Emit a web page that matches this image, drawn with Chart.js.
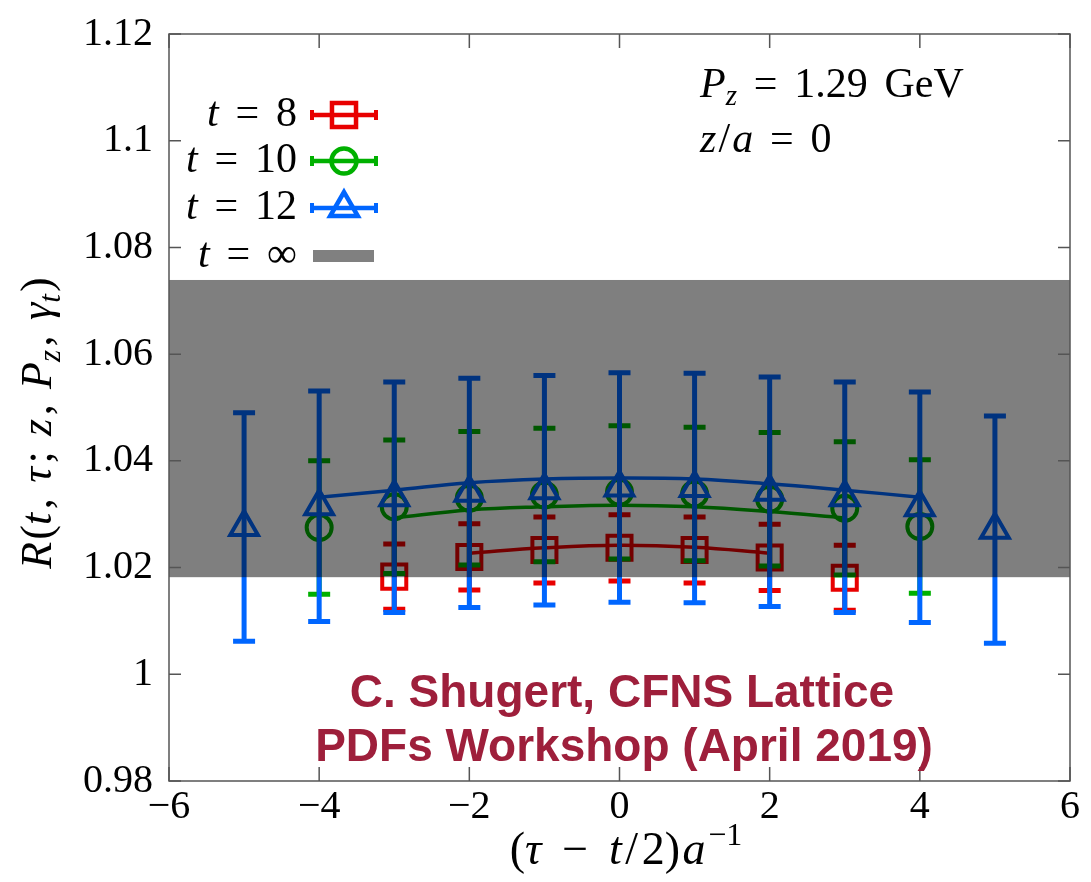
<!DOCTYPE html>
<html lang="en">
<head>
<meta charset="UTF-8">
<title>R(t, tau; z, Pz, gamma_t)</title>
<script src="https://cdn.jsdelivr.net/npm/chart.js"></script>
<style>
  body { margin: 0; background: #fff; }
  #wrap { width: 1091px; height: 882px; }
</style>
</head>
<body>
<div id="wrap"><canvas id="ratioChart" width="1091" height="882"></canvas></div>
<script>
// axis ticks
const xTicks = [-6, -4, -2, 0, 2, 4, 6];
const xTickLabels = ['\u22126', '\u22124', '\u22122', '0', '2', '4', '6'];
const yTicks = [0.98, 1.00, 1.02, 1.04, 1.06, 1.08, 1.10, 1.12];
const yTickLabels = ['0.98', '1', '1.02', '1.04', '1.06', '1.08', '1.1', '1.12'];

// t = 8
const xT8 = [-3, -2, -1, 0, 1, 2, 3];
const yT8 = [1.0183, 1.0220, 1.0233, 1.0237, 1.0233, 1.0219, 1.0181];
const eT8 = [0.0061, 0.0062, 0.0062, 0.0062, 0.0062, 0.0062, 0.0061];
// t = 10
const xT10 = [-4, -3, -2, -1, 0, 1, 2, 3, 4];
const yT10 = [1.0275, 1.0314, 1.0330, 1.0336, 1.0341, 1.0338, 1.0328, 1.0311, 1.0277];
const eT10 = [0.0125, 0.0125, 0.0125, 0.0125, 0.0125, 0.0125, 0.0125, 0.0125, 0.0125];
// t = 12
const xT12 = [-5, -4, -3, -2, -1, 0, 1, 2, 3, 4, 5];
const yT12 = [1.0276, 1.0315, 1.0332, 1.0340, 1.0345, 1.0350, 1.0349, 1.0342, 1.0332, 1.0313, 1.0271];
const eT12 = [0.0214, 0.0216, 0.0216, 0.0215, 0.0215, 0.0215, 0.0215, 0.0215, 0.0216, 0.0216, 0.0213];

// fit curves
const fitX8 = [-2, -1, 0, 1, 2];
const fitY8 = [1.0227, 1.0237, 1.0242, 1.0238, 1.0227];
const fitX10 = [-3, -2, -1, 0, 1, 2, 3];
const fitY10 = [1.0293, 1.0308, 1.0314, 1.0317, 1.0314, 1.0305, 1.0293];
const fitX12 = [-4, -3, -2, -1, 0, 1, 2, 3, 4];
const fitY12 = [1.0332, 1.0345, 1.0359, 1.0366, 1.0368, 1.0366, 1.0357, 1.0345, 1.0332];

// t = infinity band
const bandLow = 1.0182;
const bandHigh = 1.0739;

const legendLabels = ['8', '10', '12', '\u221E'];

const RED = '#e80000', GREEN = '#00b000', BLUE = '#0066ff';
const SERIF = '"Liberation Serif", "DejaVu Serif", serif';

function toPoints(xs, ys) {
    return xs.map((x, i) => ({ x: x, y: ys[i] }));
}

function pointSet(label, xs, ys, errs, color, style, radius, order) {
    return {
        label: label,
        data: toPoints(xs, ys),
        errors: errs,
        borderColor: color,
        backgroundColor: 'rgba(0,0,0,0)',
        pointStyle: style,
        pointRadius: radius,
        pointHoverRadius: radius,
        pointBorderWidth: 4,
        showLine: false,
        order: order
    };
}

function fitSet(xs, ys, color, order) {
    return {
        data: toPoints(xs, ys),
        borderColor: color,
        borderWidth: 3.5,
        pointRadius: 0,
        showLine: true,
        tension: 0.4,
        fill: false,
        order: order
    };
}

// rich text: runs are [text, style] or a number (gap in em)
function drawRich(ctx, runs, x, y, size, align) {
    const items = runs.map(r => {
        if (typeof r === 'number') return { gap: r * size };
        const [t, s] = r;
        let font, dy = 0;
        if (s === 'i') font = 'italic ' + size + 'px ' + SERIF;
        else if (s === 'sub') { font = 'italic ' + Math.round(size * 0.7) + 'px ' + SERIF; dy = size * 0.2; }
        else if (s === 'sup') { font = Math.round(size * 0.7) + 'px ' + SERIF; dy = -size * 0.42; }
        else font = size + 'px ' + SERIF;
        ctx.font = font;
        return { t: t, font: font, dy: dy, w: ctx.measureText(t).width };
    });
    const total = items.reduce((a, it) => a + (it.gap !== undefined ? it.gap : it.w), 0);
    let cx = align === 'center' ? x - total / 2 : align === 'right' ? x - total : x;
    ctx.textAlign = 'left';
    ctx.textBaseline = 'alphabetic';
    items.forEach(it => {
        if (it.gap !== undefined) { cx += it.gap; return; }
        ctx.font = it.font;
        ctx.fillText(it.t, cx, y + it.dy);
        cx += it.w;
    });
}

const errorBars = {
    id: 'errorBars',
    beforeDatasetDraw(chart, args) {
        const ds = chart.data.datasets[args.index];
        if (!ds.errors) return;
        const xs = chart.scales.x, ys = chart.scales.y, ctx = chart.ctx;
        ctx.save();
        ctx.strokeStyle = ds.borderColor;
        ctx.lineWidth = 5;
        ds.data.forEach((p, i) => {
            const px = xs.getPixelForValue(p.x);
            const top = ys.getPixelForValue(p.y + ds.errors[i]);
            const bot = ys.getPixelForValue(p.y - ds.errors[i]);
            ctx.beginPath();
            ctx.moveTo(px, top); ctx.lineTo(px, bot);
            ctx.moveTo(px - 11, top); ctx.lineTo(px + 11, top);
            ctx.moveTo(px - 11, bot); ctx.lineTo(px + 11, bot);
            ctx.stroke();
        });
        ctx.restore();
    }
};

const band = {
    id: 'band',
    afterDatasetsDraw(chart) {
        const ctx = chart.ctx, xs = chart.scales.x, ys = chart.scales.y;
        const x0 = xs.getPixelForValue(-6), x1 = xs.getPixelForValue(6);
        const y0 = ys.getPixelForValue(bandHigh), y1 = ys.getPixelForValue(bandLow);
        ctx.save();
        ctx.fillStyle = 'rgba(0,0,0,0.5)';
        ctx.fillRect(x0, y0, x1 - x0, y1 - y0);
        ctx.restore();
    }
};

const frame = {
    id: 'frame',
    afterDraw(chart) {
        const ctx = chart.ctx, a = chart.chartArea;
        const xs = chart.scales.x, ys = chart.scales.y;
        ctx.save();
        ctx.strokeStyle = '#555';
        ctx.lineWidth = 1.5;
        ctx.strokeRect(a.left, a.top, a.right - a.left, a.bottom - a.top);
        ctx.beginPath();
        yTicks.forEach(v => {
            const py = ys.getPixelForValue(v);
            ctx.moveTo(a.left, py); ctx.lineTo(a.left + 12, py);
            ctx.moveTo(a.right, py); ctx.lineTo(a.right - 12, py);
        });
        xTicks.forEach(v => {
            const px = xs.getPixelForValue(v);
            ctx.moveTo(px, a.bottom); ctx.lineTo(px, a.bottom - 14);
            ctx.moveTo(px, a.top); ctx.lineTo(px, a.top + 14);
        });
        ctx.stroke();
        ctx.restore();
    }
};

const decor = {
    id: 'decor',
    afterDraw(chart) {
        const ctx = chart.ctx;
        ctx.save();
        ctx.fillStyle = '#000';

        // axis titles
        drawRich(ctx, [['(', 'r'], ['\u03C4', 'i'], 0.45, ['\u2212', 'r'], 0.45, ['t', 'i'], 0.08, ['/', 'r'], 0.08, ['2', 'r'], [')', 'r'], 0.05, ['a', 'i'], 0.06, ['\u22121', 'sup']], 626, 864, 46, 'center');
        ctx.save();
        ctx.translate(51, 423);
        ctx.rotate(-Math.PI / 2);
        drawRich(ctx, [['R', 'i'], 0.05, ['(', 'r'], ['t', 'i'], 0.08, [',', 'r'], 0.35, ['\u03C4', 'i'], 0.08, [';', 'r'], 0.35, ['z', 'i'], 0.08, [',', 'r'], 0.35,
            ['P', 'i'], ['z', 'sub'], 0.08, [',', 'r'], 0.35, ['\u03B3', 'i'], ['t', 'sub'], 0.05, [')', 'r']], 0, 0, 44, 'center');
        ctx.restore();

        // annotation
        drawRich(ctx, [['P', 'i'], ['z', 'sub'], 0.4, ['=', 'r'], 0.4, ['1.29', 'r'], 0.4, ['GeV', 'r']], 700, 97, 42, 'left');
        drawRich(ctx, [['z', 'i'], 0.05, ['/', 'r'], 0.05, ['a', 'i'], 0.4, ['=', 'r'], 0.4, ['0', 'r']], 700, 152, 42, 'left');

        // legend
        const rows = [115, 161, 208, 256];
        const byLabel = {};
        chart.data.datasets.filter(d => d.errors).forEach(d => { byLabel[d.label] = d; });
        legendLabels.forEach((lab, i) => {
            const y = rows[i];
            ctx.fillStyle = '#000';
            drawRich(ctx, [['t', 'i'], 0.4, ['=', 'r'], 0.4, [lab, 'r']], 297, y + 11, 42, 'right');
            const ds = byLabel[lab];
            if (ds) {
                ctx.strokeStyle = ds.borderColor;
                ctx.fillStyle = ds.borderColor;
                ctx.lineWidth = 4.5;
                ctx.beginPath();
                ctx.moveTo(310, y); ctx.lineTo(378, y);
                ctx.stroke();
                ctx.fillRect(310, y - 5, 4, 10);
                ctx.fillRect(374, y - 5, 4, 10);
                ctx.fillStyle = 'rgba(0,0,0,0)';
                Chart.helpers.drawPoint(ctx, { pointStyle: ds.pointStyle, radius: ds.pointRadius, borderWidth: 4, rotation: 0 }, 344, y);
            } else {
                ctx.fillStyle = '#808080';
                ctx.fillRect(313, y - 6, 61, 12);
            }
        });

        // workshop credit
        ctx.fillStyle = '#9e1f3b';
        ctx.font = 'bold 46px "Liberation Sans", Arial, sans-serif';
        ctx.textAlign = 'center';
        ctx.textBaseline = 'alphabetic';
        ctx.fillText('C. Shugert, CFNS Lattice', 622, 707);
        ctx.fillText('PDFs Workshop (April 2019)', 624, 761);
        ctx.restore();
    }
};

new Chart(document.getElementById('ratioChart'), {
    type: 'scatter',
    data: {
        datasets: [
            fitSet(fitX8, fitY8, RED, 6),
            pointSet('8', xT8, yT8, eT8, RED, 'rect', 17, 5),
            fitSet(fitX10, fitY10, GREEN, 4),
            pointSet('10', xT10, yT10, eT10, GREEN, 'circle', 12.5, 3),
            fitSet(fitX12, fitY12, BLUE, 2),
            pointSet('12', xT12, yT12, eT12, BLUE, 'triangle', 16, 1)
        ]
    },
    options: {
        responsive: false,
        devicePixelRatio: 1,
        animation: false,
        layout: { padding: { top: 34, right: 15, left: 0, bottom: 0 } },
        plugins: {
            legend: { display: false },
            tooltip: { enabled: false }
        },
        scales: {
            x: {
                type: 'linear',
                min: -6,
                max: 6,
                afterBuildTicks: s => { s.ticks = xTicks.map(v => ({ value: v })); },
                afterFit: s => { s.height = 101; },
                ticks: {
                    callback: (v, i) => xTickLabels[i],
                    font: { family: SERIF, size: 40 },
                    color: '#000',
                    padding: 2,
                    maxRotation: 0,
                    autoSkip: false
                },
                grid: { display: false, drawTicks: false },
                border: { display: false }
            },
            y: {
                type: 'linear',
                min: 0.98,
                max: 1.12,
                afterBuildTicks: s => { s.ticks = yTicks.map(v => ({ value: v })); },
                afterFit: s => { s.width = 169; s.paddingTop = 0; s.paddingBottom = 0; },
                ticks: {
                    callback: (v, i) => yTickLabels[i],
                    font: { family: SERIF, size: 40 },
                    color: '#000',
                    padding: 16,
                    autoSkip: false
                },
                grid: { display: false, drawTicks: false },
                border: { display: false }
            }
        }
    },
    plugins: [errorBars, band, frame, decor]
});
</script>
</body>
</html>
